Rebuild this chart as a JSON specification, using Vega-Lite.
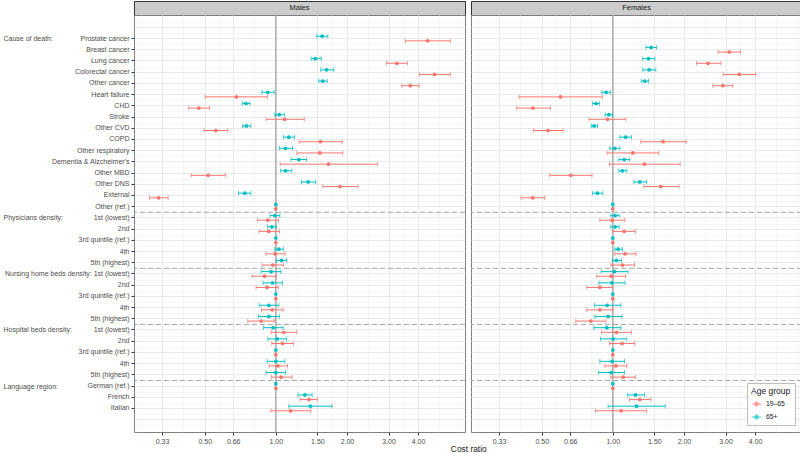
{
  "$schema": "https://vega.github.io/schema/vega-lite/v6.json",
  "padding": {"left": 2, "top": 0, "right": 0, "bottom": 0},
  "config": {"font": "Liberation Sans", "view": {"stroke": "#7f7f7f", "strokeWidth": 1}},
  "title": {"text": "Cost ratio", "orient": "bottom", "anchor": "middle", "fontSize": 8.4, "fontWeight": "normal", "color": "#1a1a1a", "offset": 0, "dx": 66},
  "datasets": {
    "est": [
      {"sex": "Males", "age": "65+", "row": "Cause of death|Prostate cancer", "est": 1.57, "lo": 1.49, "hi": 1.66},
      {"sex": "Males", "age": "19–65", "row": "Cause of death|Prostate cancer", "est": 4.39, "lo": 3.53, "hi": 5.48},
      {"sex": "Males", "age": "65+", "row": "Cause of death|Lung cancer", "est": 1.47, "lo": 1.41, "hi": 1.56},
      {"sex": "Males", "age": "19–65", "row": "Cause of death|Lung cancer", "est": 3.25, "lo": 2.94, "hi": 3.61},
      {"sex": "Males", "age": "65+", "row": "Cause of death|Colorectal cancer", "est": 1.64, "lo": 1.55, "hi": 1.76},
      {"sex": "Males", "age": "19–65", "row": "Cause of death|Colorectal cancer", "est": 4.70, "lo": 4.05, "hi": 5.48},
      {"sex": "Males", "age": "65+", "row": "Cause of death|Other cancer", "est": 1.58, "lo": 1.52, "hi": 1.65},
      {"sex": "Males", "age": "19–65", "row": "Cause of death|Other cancer", "est": 3.71, "lo": 3.41, "hi": 4.04},
      {"sex": "Males", "age": "65+", "row": "Cause of death|Heart failure", "est": 0.925, "lo": 0.873, "hi": 0.984},
      {"sex": "Males", "age": "19–65", "row": "Cause of death|Heart failure", "est": 0.681, "lo": 0.502, "hi": 0.922},
      {"sex": "Males", "age": "65+", "row": "Cause of death|CHD", "est": 0.748, "lo": 0.723, "hi": 0.778},
      {"sex": "Males", "age": "19–65", "row": "Cause of death|CHD", "est": 0.472, "lo": 0.428, "hi": 0.524},
      {"sex": "Males", "age": "65+", "row": "Cause of death|Stroke", "est": 1.033, "lo": 0.99, "hi": 1.09},
      {"sex": "Males", "age": "19–65", "row": "Cause of death|Stroke", "est": 1.09, "lo": 0.91, "hi": 1.32},
      {"sex": "Males", "age": "65+", "row": "Cause of death|Other CVD", "est": 0.751, "lo": 0.723, "hi": 0.784},
      {"sex": "Males", "age": "19–65", "row": "Cause of death|Other CVD", "est": 0.557, "lo": 0.497, "hi": 0.626},
      {"sex": "Males", "age": "65+", "row": "Cause of death|COPD", "est": 1.135, "lo": 1.078, "hi": 1.2},
      {"sex": "Males", "age": "19–65", "row": "Cause of death|COPD", "est": 1.546, "lo": 1.256, "hi": 1.91},
      {"sex": "Males", "age": "65+", "row": "Cause of death|Other respiratory", "est": 1.099, "lo": 1.036, "hi": 1.177},
      {"sex": "Males", "age": "19–65", "row": "Cause of death|Other respiratory", "est": 1.536, "lo": 1.227, "hi": 1.92},
      {"sex": "Males", "age": "65+", "row": "Cause of death|Dementia & Alzcheimer's", "est": 1.252, "lo": 1.16, "hi": 1.35},
      {"sex": "Males", "age": "19–65", "row": "Cause of death|Dementia & Alzcheimer's", "est": 1.67, "lo": 1.043, "hi": 2.69},
      {"sex": "Males", "age": "65+", "row": "Cause of death|Other MBD", "est": 1.10, "lo": 1.047, "hi": 1.169},
      {"sex": "Males", "age": "19–65", "row": "Cause of death|Other MBD", "est": 0.517, "lo": 0.438, "hi": 0.612},
      {"sex": "Males", "age": "65+", "row": "Cause of death|Other DNS", "est": 1.37, "lo": 1.285, "hi": 1.473},
      {"sex": "Males", "age": "19–65", "row": "Cause of death|Other DNS", "est": 1.87, "lo": 1.58, "hi": 2.23},
      {"sex": "Males", "age": "65+", "row": "Cause of death|External", "est": 0.739, "lo": 0.695, "hi": 0.784},
      {"sex": "Males", "age": "19–65", "row": "Cause of death|External", "est": 0.319, "lo": 0.292, "hi": 0.350},
      {"sex": "Males", "age": "65+", "row": "Cause of death|Other (ref.)", "est": 1, "lo": null, "hi": null},
      {"sex": "Males", "age": "19–65", "row": "Cause of death|Other (ref.)", "est": 1, "lo": null, "hi": null},
      {"sex": "Males", "age": "65+", "row": "Physicians density|1st (lowest)", "est": 0.99, "lo": 0.946, "hi": 1.04},
      {"sex": "Males", "age": "19–65", "row": "Physicians density|1st (lowest)", "est": 0.925, "lo": 0.836, "hi": 1.026},
      {"sex": "Males", "age": "65+", "row": "Physicians density|2nd", "est": 0.962, "lo": 0.922, "hi": 1.003},
      {"sex": "Males", "age": "19–65", "row": "Physicians density|2nd", "est": 0.934, "lo": 0.85, "hi": 1.036},
      {"sex": "Males", "age": "65+", "row": "Physicians density|3rd quintile (ref.)", "est": 1, "lo": null, "hi": null},
      {"sex": "Males", "age": "19–65", "row": "Physicians density|3rd quintile (ref.)", "est": 1, "lo": null, "hi": null},
      {"sex": "Males", "age": "65+", "row": "Physicians density|4th", "est": 1.03, "lo": 0.99, "hi": 1.078},
      {"sex": "Males", "age": "19–65", "row": "Physicians density|4th", "est": 0.993, "lo": 0.907, "hi": 1.095},
      {"sex": "Males", "age": "65+", "row": "Physicians density|5th (highest)", "est": 1.057, "lo": 1.007, "hi": 1.11},
      {"sex": "Males", "age": "19–65", "row": "Physicians density|5th (highest)", "est": 0.971, "lo": 0.875, "hi": 1.078},
      {"sex": "Males", "age": "65+", "row": "Nursing home beds density|1st (lowest)", "est": 0.955, "lo": 0.866, "hi": 1.053},
      {"sex": "Males", "age": "19–65", "row": "Nursing home beds density|1st (lowest)", "est": 0.896, "lo": 0.794, "hi": 1.003},
      {"sex": "Males", "age": "65+", "row": "Nursing home beds density|2nd", "est": 0.968, "lo": 0.883, "hi": 1.067},
      {"sex": "Males", "age": "19–65", "row": "Nursing home beds density|2nd", "est": 0.919, "lo": 0.825, "hi": 1.026},
      {"sex": "Males", "age": "65+", "row": "Nursing home beds density|3rd quintile (ref.)", "est": 1, "lo": null, "hi": null},
      {"sex": "Males", "age": "19–65", "row": "Nursing home beds density|3rd quintile (ref.)", "est": 1, "lo": null, "hi": null},
      {"sex": "Males", "age": "65+", "row": "Nursing home beds density|4th", "est": 0.934, "lo": 0.85, "hi": 1.03},
      {"sex": "Males", "age": "19–65", "row": "Nursing home beds density|4th", "est": 0.965, "lo": 0.87, "hi": 1.074},
      {"sex": "Males", "age": "65+", "row": "Nursing home beds density|5th (highest)", "est": 0.934, "lo": 0.845, "hi": 1.036},
      {"sex": "Males", "age": "19–65", "row": "Nursing home beds density|5th (highest)", "est": 0.866, "lo": 0.761, "hi": 0.984},
      {"sex": "Males", "age": "65+", "row": "Hospital beds density|1st (lowest)", "est": 0.974, "lo": 0.887, "hi": 1.074},
      {"sex": "Males", "age": "19–65", "row": "Hospital beds density|1st (lowest)", "est": 1.081, "lo": 0.955, "hi": 1.227},
      {"sex": "Males", "age": "65+", "row": "Hospital beds density|2nd", "est": 1.013, "lo": 0.925, "hi": 1.11},
      {"sex": "Males", "age": "19–65", "row": "Hospital beds density|2nd", "est": 1.067, "lo": 0.962, "hi": 1.189},
      {"sex": "Males", "age": "65+", "row": "Hospital beds density|3rd quintile (ref.)", "est": 1, "lo": null, "hi": null},
      {"sex": "Males", "age": "19–65", "row": "Hospital beds density|3rd quintile (ref.)", "est": 1, "lo": null, "hi": null},
      {"sex": "Males", "age": "65+", "row": "Hospital beds density|4th", "est": 1.0, "lo": 0.919, "hi": 1.092},
      {"sex": "Males", "age": "19–65", "row": "Hospital beds density|4th", "est": 1.02, "lo": 0.937, "hi": 1.121},
      {"sex": "Males", "age": "65+", "row": "Hospital beds density|5th (highest)", "est": 1.0, "lo": 0.91, "hi": 1.099},
      {"sex": "Males", "age": "19–65", "row": "Hospital beds density|5th (highest)", "est": 1.053, "lo": 0.958, "hi": 1.173},
      {"sex": "Males", "age": "65+", "row": "Language region|German (ref.)", "est": 1, "lo": null, "hi": null},
      {"sex": "Males", "age": "19–65", "row": "Language region|German (ref.)", "est": 1, "lo": null, "hi": null},
      {"sex": "Males", "age": "65+", "row": "Language region|French", "est": 1.327, "lo": 1.24, "hi": 1.425},
      {"sex": "Males", "age": "19–65", "row": "Language region|French", "est": 1.38, "lo": 1.268, "hi": 1.50},
      {"sex": "Males", "age": "65+", "row": "Language region|Italian", "est": 1.40, "lo": 1.135, "hi": 1.73},
      {"sex": "Males", "age": "19–65", "row": "Language region|Italian", "est": 1.154, "lo": 0.953, "hi": 1.406},

      {"sex": "Females", "age": "65+", "row": "Cause of death|Breast cancer", "est": 1.453, "lo": 1.38, "hi": 1.53},
      {"sex": "Females", "age": "19–65", "row": "Cause of death|Breast cancer", "est": 3.11, "lo": 2.79, "hi": 3.47},
      {"sex": "Females", "age": "65+", "row": "Cause of death|Lung cancer", "est": 1.416, "lo": 1.335, "hi": 1.506},
      {"sex": "Females", "age": "19–65", "row": "Cause of death|Lung cancer", "est": 2.53, "lo": 2.26, "hi": 2.87},
      {"sex": "Females", "age": "65+", "row": "Cause of death|Colorectal cancer", "est": 1.425, "lo": 1.34, "hi": 1.52},
      {"sex": "Females", "age": "19–65", "row": "Cause of death|Colorectal cancer", "est": 3.43, "lo": 2.93, "hi": 4.02},
      {"sex": "Females", "age": "65+", "row": "Cause of death|Other cancer", "est": 1.366, "lo": 1.32, "hi": 1.416},
      {"sex": "Females", "age": "19–65", "row": "Cause of death|Other cancer", "est": 2.92, "lo": 2.65, "hi": 3.22},
      {"sex": "Females", "age": "65+", "row": "Cause of death|Heart failure", "est": 0.937, "lo": 0.898, "hi": 0.977},
      {"sex": "Females", "age": "19–65", "row": "Cause of death|Heart failure", "est": 0.60, "lo": 0.401, "hi": 0.903},
      {"sex": "Females", "age": "65+", "row": "Cause of death|CHD", "est": 0.85, "lo": 0.82, "hi": 0.877},
      {"sex": "Females", "age": "19–65", "row": "Cause of death|CHD", "est": 0.459, "lo": 0.392, "hi": 0.544},
      {"sex": "Females", "age": "65+", "row": "Cause of death|Stroke", "est": 0.962, "lo": 0.928, "hi": 0.997},
      {"sex": "Females", "age": "19–65", "row": "Cause of death|Stroke", "est": 0.949, "lo": 0.793, "hi": 1.135},
      {"sex": "Females", "age": "65+", "row": "Cause of death|Other CVD", "est": 0.833, "lo": 0.809, "hi": 0.861},
      {"sex": "Females", "age": "19–65", "row": "Cause of death|Other CVD", "est": 0.532, "lo": 0.461, "hi": 0.616},
      {"sex": "Females", "age": "65+", "row": "Cause of death|COPD", "est": 1.132, "lo": 1.071, "hi": 1.199},
      {"sex": "Females", "age": "19–65", "row": "Cause of death|COPD", "est": 1.633, "lo": 1.314, "hi": 2.045},
      {"sex": "Females", "age": "65+", "row": "Cause of death|Other respiratory", "est": 1.02, "lo": 0.971, "hi": 1.071},
      {"sex": "Females", "age": "19–65", "row": "Cause of death|Other respiratory", "est": 1.215, "lo": 0.946, "hi": 1.566},
      {"sex": "Females", "age": "65+", "row": "Cause of death|Dementia & Alzcheimer's", "est": 1.117, "lo": 1.06, "hi": 1.177},
      {"sex": "Females", "age": "19–65", "row": "Cause of death|Dementia & Alzcheimer's", "est": 1.361, "lo": 0.968, "hi": 1.928},
      {"sex": "Females", "age": "65+", "row": "Cause of death|Other MBD", "est": 1.099, "lo": 1.06, "hi": 1.146},
      {"sex": "Females", "age": "19–65", "row": "Cause of death|Other MBD", "est": 0.664, "lo": 0.541, "hi": 0.817},
      {"sex": "Females", "age": "65+", "row": "Cause of death|Other DNS", "est": 1.301, "lo": 1.227, "hi": 1.388},
      {"sex": "Females", "age": "19–65", "row": "Cause of death|Other DNS", "est": 1.596, "lo": 1.353, "hi": 1.905},
      {"sex": "Females", "age": "65+", "row": "Cause of death|External", "est": 0.861, "lo": 0.82, "hi": 0.907},
      {"sex": "Females", "age": "19–65", "row": "Cause of death|External", "est": 0.458, "lo": 0.409, "hi": 0.515},
      {"sex": "Females", "age": "65+", "row": "Cause of death|Other (ref.)", "est": 1, "lo": null, "hi": null},
      {"sex": "Females", "age": "19–65", "row": "Cause of death|Other (ref.)", "est": 1, "lo": null, "hi": null},
      {"sex": "Females", "age": "65+", "row": "Physicians density|1st (lowest)", "est": 1.023, "lo": 0.98, "hi": 1.064},
      {"sex": "Females", "age": "19–65", "row": "Physicians density|1st (lowest)", "est": 0.993, "lo": 0.881, "hi": 1.124},
      {"sex": "Females", "age": "65+", "row": "Physicians density|2nd", "est": 1.023, "lo": 0.98, "hi": 1.064},
      {"sex": "Females", "age": "19–65", "row": "Physicians density|2nd", "est": 1.117, "lo": 1.0, "hi": 1.247},
      {"sex": "Females", "age": "65+", "row": "Physicians density|3rd quintile (ref.)", "est": 1, "lo": null, "hi": null},
      {"sex": "Females", "age": "19–65", "row": "Physicians density|3rd quintile (ref.)", "est": 1, "lo": null, "hi": null},
      {"sex": "Females", "age": "65+", "row": "Physicians density|4th", "est": 1.053, "lo": 1.02, "hi": 1.099},
      {"sex": "Females", "age": "19–65", "row": "Physicians density|4th", "est": 1.127, "lo": 1.02, "hi": 1.255},
      {"sex": "Females", "age": "65+", "row": "Physicians density|5th (highest)", "est": 1.036, "lo": 0.997, "hi": 1.088},
      {"sex": "Females", "age": "19–65", "row": "Physicians density|5th (highest)", "est": 1.099, "lo": 0.98, "hi": 1.235},
      {"sex": "Females", "age": "65+", "row": "Nursing home beds density|1st (lowest)", "est": 1.016, "lo": 0.892, "hi": 1.158},
      {"sex": "Females", "age": "19–65", "row": "Nursing home beds density|1st (lowest)", "est": 0.984, "lo": 0.855, "hi": 1.131},
      {"sex": "Females", "age": "65+", "row": "Nursing home beds density|2nd", "est": 0.99, "lo": 0.873, "hi": 1.127},
      {"sex": "Females", "age": "19–65", "row": "Nursing home beds density|2nd", "est": 0.881, "lo": 0.776, "hi": 1.0},
      {"sex": "Females", "age": "65+", "row": "Nursing home beds density|3rd quintile (ref.)", "est": 1, "lo": null, "hi": null},
      {"sex": "Females", "age": "19–65", "row": "Nursing home beds density|3rd quintile (ref.)", "est": 1, "lo": null, "hi": null},
      {"sex": "Females", "age": "65+", "row": "Nursing home beds density|4th", "est": 0.946, "lo": 0.836, "hi": 1.081},
      {"sex": "Females", "age": "19–65", "row": "Nursing home beds density|4th", "est": 0.881, "lo": 0.776, "hi": 1.0},
      {"sex": "Females", "age": "65+", "row": "Nursing home beds density|5th (highest)", "est": 0.955, "lo": 0.839, "hi": 1.095},
      {"sex": "Females", "age": "19–65", "row": "Nursing home beds density|5th (highest)", "est": 0.807, "lo": 0.697, "hi": 0.934},
      {"sex": "Females", "age": "65+", "row": "Hospital beds density|1st (lowest)", "est": 0.943, "lo": 0.831, "hi": 1.081},
      {"sex": "Females", "age": "19–65", "row": "Hospital beds density|1st (lowest)", "est": 1.036, "lo": 0.895, "hi": 1.199},
      {"sex": "Females", "age": "65+", "row": "Hospital beds density|2nd", "est": 1.003, "lo": 0.886, "hi": 1.146},
      {"sex": "Females", "age": "19–65", "row": "Hospital beds density|2nd", "est": 1.095, "lo": 0.968, "hi": 1.239},
      {"sex": "Females", "age": "65+", "row": "Hospital beds density|3rd quintile (ref.)", "est": 1, "lo": null, "hi": null},
      {"sex": "Females", "age": "19–65", "row": "Hospital beds density|3rd quintile (ref.)", "est": 1, "lo": null, "hi": null},
      {"sex": "Females", "age": "65+", "row": "Hospital beds density|4th", "est": 0.993, "lo": 0.881, "hi": 1.12},
      {"sex": "Females", "age": "19–65", "row": "Hospital beds density|4th", "est": 1.03, "lo": 0.925, "hi": 1.146},
      {"sex": "Females", "age": "65+", "row": "Hospital beds density|5th (highest)", "est": 0.984, "lo": 0.869, "hi": 1.12},
      {"sex": "Females", "age": "19–65", "row": "Hospital beds density|5th (highest)", "est": 1.106, "lo": 0.98, "hi": 1.247},
      {"sex": "Females", "age": "65+", "row": "Language region|German (ref.)", "est": 1, "lo": null, "hi": null},
      {"sex": "Females", "age": "19–65", "row": "Language region|German (ref.)", "est": 1, "lo": null, "hi": null},
      {"sex": "Females", "age": "65+", "row": "Language region|French", "est": 1.247, "lo": 1.153, "hi": 1.361},
      {"sex": "Females", "age": "19–65", "row": "Language region|French", "est": 1.301, "lo": 1.176, "hi": 1.449},
      {"sex": "Females", "age": "65+", "row": "Language region|Italian", "est": 1.259, "lo": 0.955, "hi": 1.666},
      {"sex": "Females", "age": "19–65", "row": "Language region|Italian", "est": 1.084, "lo": 0.844, "hi": 1.388}
    ]
  },
  "spacing": 4,
  "resolve": {"legend": {"color": "independent"}},
  "hconcat": [
    {
      "spacing": 0,
      "bounds": "flush",
      "resolve": {"legend": {"color": "independent"}},
      "vconcat": [
        {
          "width": 331, "height": 14,
          "view": {"fill": "#cccccc", "stroke": "#333333", "strokeWidth": 1},
          "data": {"values": [{"panel": "Males"}]},
          "mark": {"type": "text", "fontSize": 7.5, "color": "#1a1a1a", "baseline": "middle"},
          "encoding": {"text": {"field": "panel", "type": "nominal"}}
        },
        {
          "width": 331, "height": 417,
          "data": {"name": "est"},
          "transform": [{"filter": "datum.sex == 'Males'"}],
          "layer": [
            {
              "data": {"values": [{}]},
              "mark": {"type": "rule", "color": "#8c8c8c", "strokeWidth": 1},
              "encoding": {"x": {"datum": 1, "type": "quantitative", "axis": null}}
            },
            {
              "transform": [{"filter": "datum.age == '65+' && indexof(['Cause of death|Other (ref.)','Physicians density|5th (highest)','Nursing home beds density|5th (highest)','Hospital beds density|5th (highest)'], datum.row) >= 0"}],
              "mark": {"type": "rule", "strokeDash": [5, 3], "color": "#a6a6a6", "strokeWidth": 1},
              "encoding": {"y": {"field": "row", "type": "nominal", "bandPosition": 1, "axis": null}}
            },
            {
              "transform": [{"filter": "datum.lo != null"}],
              "mark": {"type": "rule", "strokeWidth": 1},
              "encoding": {
                "x": {"field": "lo", "type": "quantitative", "scale": {"type": "log", "domain": [0.251, 6.32], "nice": false},
                  "axis": {"orient": "bottom", "title": null, "values": [0.33, 0.5, 0.66, 1, 1.5, 2, 3, 4], "format": ".2f", "labelFontSize": 7, "labelColor": "#4d4d4d", "labelFlush": false, "tickSize": 3, "tickColor": "#333333", "domain": false, "grid": true, "gridColor": "#e6e6e6", "gridWidth": 0.9, "labelPadding": 2}},
                "x2": {"field": "hi"},
                "y": {"field": "row", "type": "nominal",
                  "scale": {"paddingInner": 0, "paddingOuter": 0.6, "domain": ["pad top","Cause of death|Prostate cancer","Cause of death|Breast cancer","Cause of death|Lung cancer","Cause of death|Colorectal cancer","Cause of death|Other cancer","Cause of death|Heart failure","Cause of death|CHD","Cause of death|Stroke","Cause of death|Other CVD","Cause of death|COPD","Cause of death|Other respiratory","Cause of death|Dementia & Alzcheimer's","Cause of death|Other MBD","Cause of death|Other DNS","Cause of death|External","Cause of death|Other (ref.)","Physicians density|1st (lowest)","Physicians density|2nd","Physicians density|3rd quintile (ref.)","Physicians density|4th","Physicians density|5th (highest)","Nursing home beds density|1st (lowest)","Nursing home beds density|2nd","Nursing home beds density|3rd quintile (ref.)","Nursing home beds density|4th","Nursing home beds density|5th (highest)","Hospital beds density|1st (lowest)","Hospital beds density|2nd","Hospital beds density|3rd quintile (ref.)","Hospital beds density|4th","Hospital beds density|5th (highest)","Language region|German (ref.)","Language region|French","Language region|Italian","pad bottom"]},
                  "axis": {"orient": "left", "title": null, "labelExpr": "indexof(datum.value, '|') < 0 ? '' : (datum.value == 'Nursing home beds density|1st (lowest)' ? 'Nursing home beds density: 1st (lowest)' : split(datum.value, '|')[1])", "labelFontSize": 7, "labelColor": "#4d4d4d", "labelPadding": 2, "tickSize": 3, "tickColor": {"condition": {"test": "indexof(datum.value, '|') < 0", "value": "transparent"}, "value": "#333333"}, "domain": false, "grid": true, "gridColor": "#e6e6e6", "gridWidth": 0.9, "labelOverlap": false, "labelLimit": 300}},
                "yOffset": {"field": "age", "type": "nominal", "scale": {"domain": ["65+", "19–65"], "paddingInner": 0, "paddingOuter": 0.22}},
                "color": {"field": "age", "type": "nominal", "scale": {"domain": ["19–65", "65+"], "range": ["#F8766D", "#00BFC4"]}, "legend": null}
              }
            },
            {
              "transform": [{"filter": "datum.lo != null"}],
              "mark": {"type": "tick", "size": 4.5, "thickness": 1},
              "encoding": {
                "x": {"field": "lo", "type": "quantitative",
                  "axis": {"orient": "bottom", "title": null, "values": [0.268, 0.406, 0.574, 0.812, 1.225, 1.732, 2.449, 3.464, 4.92, 6.06], "labels": false, "ticks": false, "domain": false, "grid": true, "gridColor": "#f0f0f0", "gridWidth": 0.6}},
                "y": {"field": "row", "type": "nominal",
                  "axis": {"orient": "left", "title": null, "labelExpr": "indexof(['Cause of death|Prostate cancer','Physicians density|1st (lowest)','Hospital beds density|1st (lowest)','Language region|German (ref.)'], datum.value) >= 0 ? split(datum.value, '|')[0] + ':' : ''", "labelAlign": "left", "labelPadding": 131, "labelFontSize": 7, "labelColor": "#4d4d4d", "ticks": false, "domain": false, "grid": true, "tickBand": "extent", "gridColor": "#f0f0f0", "gridWidth": 0.6, "labelOverlap": false, "labelLimit": 300}},
                "yOffset": {"field": "age", "type": "nominal"},
                "color": {"field": "age", "type": "nominal", "legend": null}
              }
            },
            {
              "transform": [{"filter": "datum.hi != null"}],
              "mark": {"type": "tick", "size": 4.5, "thickness": 1},
              "encoding": {
                "x": {"field": "hi", "type": "quantitative", "axis": null},
                "y": {"field": "row", "type": "nominal", "axis": null},
                "yOffset": {"field": "age", "type": "nominal"},
                "color": {"field": "age", "type": "nominal", "legend": null}
              }
            },
            {
              "mark": {"type": "circle", "size": 14, "opacity": 1},
              "encoding": {
                "x": {"field": "est", "type": "quantitative", "axis": null},
                "y": {"field": "row", "type": "nominal", "axis": null},
                "yOffset": {"field": "age", "type": "nominal"},
                "color": {"field": "age", "type": "nominal", "legend": null}
              }
            }
          ],
          "resolve": {"axis": {"x": "independent", "y": "independent"}}
        }
      ]
    },
    {
      "spacing": 0,
      "bounds": "flush",
      "resolve": {"legend": {"color": "independent"}},
      "vconcat": [
        {
          "width": 331, "height": 14,
          "view": {"fill": "#cccccc", "stroke": "#333333", "strokeWidth": 1},
          "data": {"values": [{"panel": "Females"}]},
          "mark": {"type": "text", "fontSize": 7.5, "color": "#1a1a1a", "baseline": "middle"},
          "encoding": {"text": {"field": "panel", "type": "nominal"}}
        },
        {
          "width": 331, "height": 417,
          "data": {"name": "est"},
          "transform": [{"filter": "datum.sex == 'Females'"}],
          "layer": [
            {
              "data": {"values": [{}]},
              "mark": {"type": "rule", "color": "#8c8c8c", "strokeWidth": 1},
              "encoding": {"x": {"datum": 1, "type": "quantitative", "axis": null}}
            },
            {
              "transform": [{"filter": "datum.age == '65+' && indexof(['Cause of death|Other (ref.)','Physicians density|5th (highest)','Nursing home beds density|5th (highest)','Hospital beds density|5th (highest)'], datum.row) >= 0"}],
              "mark": {"type": "rule", "strokeDash": [5, 3], "color": "#a6a6a6", "strokeWidth": 1},
              "encoding": {"y": {"field": "row", "type": "nominal", "bandPosition": 1, "axis": null}}
            },
            {
              "transform": [{"filter": "datum.lo != null"}],
              "mark": {"type": "rule", "strokeWidth": 1},
              "encoding": {
                "x": {"field": "lo", "type": "quantitative", "scale": {"type": "log", "domain": [0.251, 6.32], "nice": false},
                  "axis": {"orient": "bottom", "title": null, "values": [0.33, 0.5, 0.66, 1, 1.5, 2, 3, 4], "format": ".2f", "labelFontSize": 7, "labelColor": "#4d4d4d", "labelFlush": false, "tickSize": 3, "tickColor": "#333333", "domain": false, "grid": true, "gridColor": "#e6e6e6", "gridWidth": 0.9, "labelPadding": 2}},
                "x2": {"field": "hi"},
                "y": {"field": "row", "type": "nominal",
                  "scale": {"paddingInner": 0, "paddingOuter": 0.6, "domain": ["pad top","Cause of death|Prostate cancer","Cause of death|Breast cancer","Cause of death|Lung cancer","Cause of death|Colorectal cancer","Cause of death|Other cancer","Cause of death|Heart failure","Cause of death|CHD","Cause of death|Stroke","Cause of death|Other CVD","Cause of death|COPD","Cause of death|Other respiratory","Cause of death|Dementia & Alzcheimer's","Cause of death|Other MBD","Cause of death|Other DNS","Cause of death|External","Cause of death|Other (ref.)","Physicians density|1st (lowest)","Physicians density|2nd","Physicians density|3rd quintile (ref.)","Physicians density|4th","Physicians density|5th (highest)","Nursing home beds density|1st (lowest)","Nursing home beds density|2nd","Nursing home beds density|3rd quintile (ref.)","Nursing home beds density|4th","Nursing home beds density|5th (highest)","Hospital beds density|1st (lowest)","Hospital beds density|2nd","Hospital beds density|3rd quintile (ref.)","Hospital beds density|4th","Hospital beds density|5th (highest)","Language region|German (ref.)","Language region|French","Language region|Italian","pad bottom"]},
                  "axis": {"orient": "left", "title": null, "labels": false, "ticks": false, "domain": false, "grid": true, "gridColor": "#e6e6e6", "gridWidth": 0.9}},
                "yOffset": {"field": "age", "type": "nominal", "scale": {"domain": ["65+", "19–65"], "paddingInner": 0, "paddingOuter": 0.22}},
                "color": {"field": "age", "type": "nominal", "scale": {"domain": ["19–65", "65+"], "range": ["#F8766D", "#00BFC4"]},
                  "legend": {"title": "Age group", "orient": "bottom-right", "offset": 7, "padding": 4, "strokeColor": "#bdbdbd", "fillColor": "#ffffff", "titleFontSize": 8.5, "titleFontWeight": "normal", "titleColor": "#1a1a1a", "titlePadding": 3, "labelFontSize": 6.8, "labelColor": "#1a1a1a", "symbolType": "M-1,0L1,0M-0.4,0A0.4,0.4 0 1,1 0.4,0A0.4,0.4 0 1,1 -0.4,0Z", "symbolSize": 100, "symbolStrokeWidth": 1, "rowPadding": 3}}
              }
            },
            {
              "transform": [{"filter": "datum.lo != null"}],
              "mark": {"type": "tick", "size": 4.5, "thickness": 1},
              "encoding": {
                "x": {"field": "lo", "type": "quantitative",
                  "axis": {"orient": "bottom", "title": null, "values": [0.268, 0.406, 0.574, 0.812, 1.225, 1.732, 2.449, 3.464, 4.92, 6.06], "labels": false, "ticks": false, "domain": false, "grid": true, "gridColor": "#f0f0f0", "gridWidth": 0.6}},
                "y": {"field": "row", "type": "nominal",
                  "axis": {"orient": "left", "title": null, "labels": false, "ticks": false, "domain": false, "grid": true, "tickBand": "extent", "gridColor": "#f0f0f0", "gridWidth": 0.6}},
                "yOffset": {"field": "age", "type": "nominal"},
                "color": {"field": "age", "type": "nominal"}
              }
            },
            {
              "transform": [{"filter": "datum.hi != null"}],
              "mark": {"type": "tick", "size": 4.5, "thickness": 1},
              "encoding": {
                "x": {"field": "hi", "type": "quantitative", "axis": null},
                "y": {"field": "row", "type": "nominal", "axis": null},
                "yOffset": {"field": "age", "type": "nominal"},
                "color": {"field": "age", "type": "nominal"}
              }
            },
            {
              "mark": {"type": "circle", "size": 14, "opacity": 1},
              "encoding": {
                "x": {"field": "est", "type": "quantitative", "axis": null},
                "y": {"field": "row", "type": "nominal", "axis": null},
                "yOffset": {"field": "age", "type": "nominal"},
                "color": {"field": "age", "type": "nominal"}
              }
            }
          ],
          "resolve": {"axis": {"x": "independent", "y": "independent"}}
        }
      ]
    }
  ]
}
